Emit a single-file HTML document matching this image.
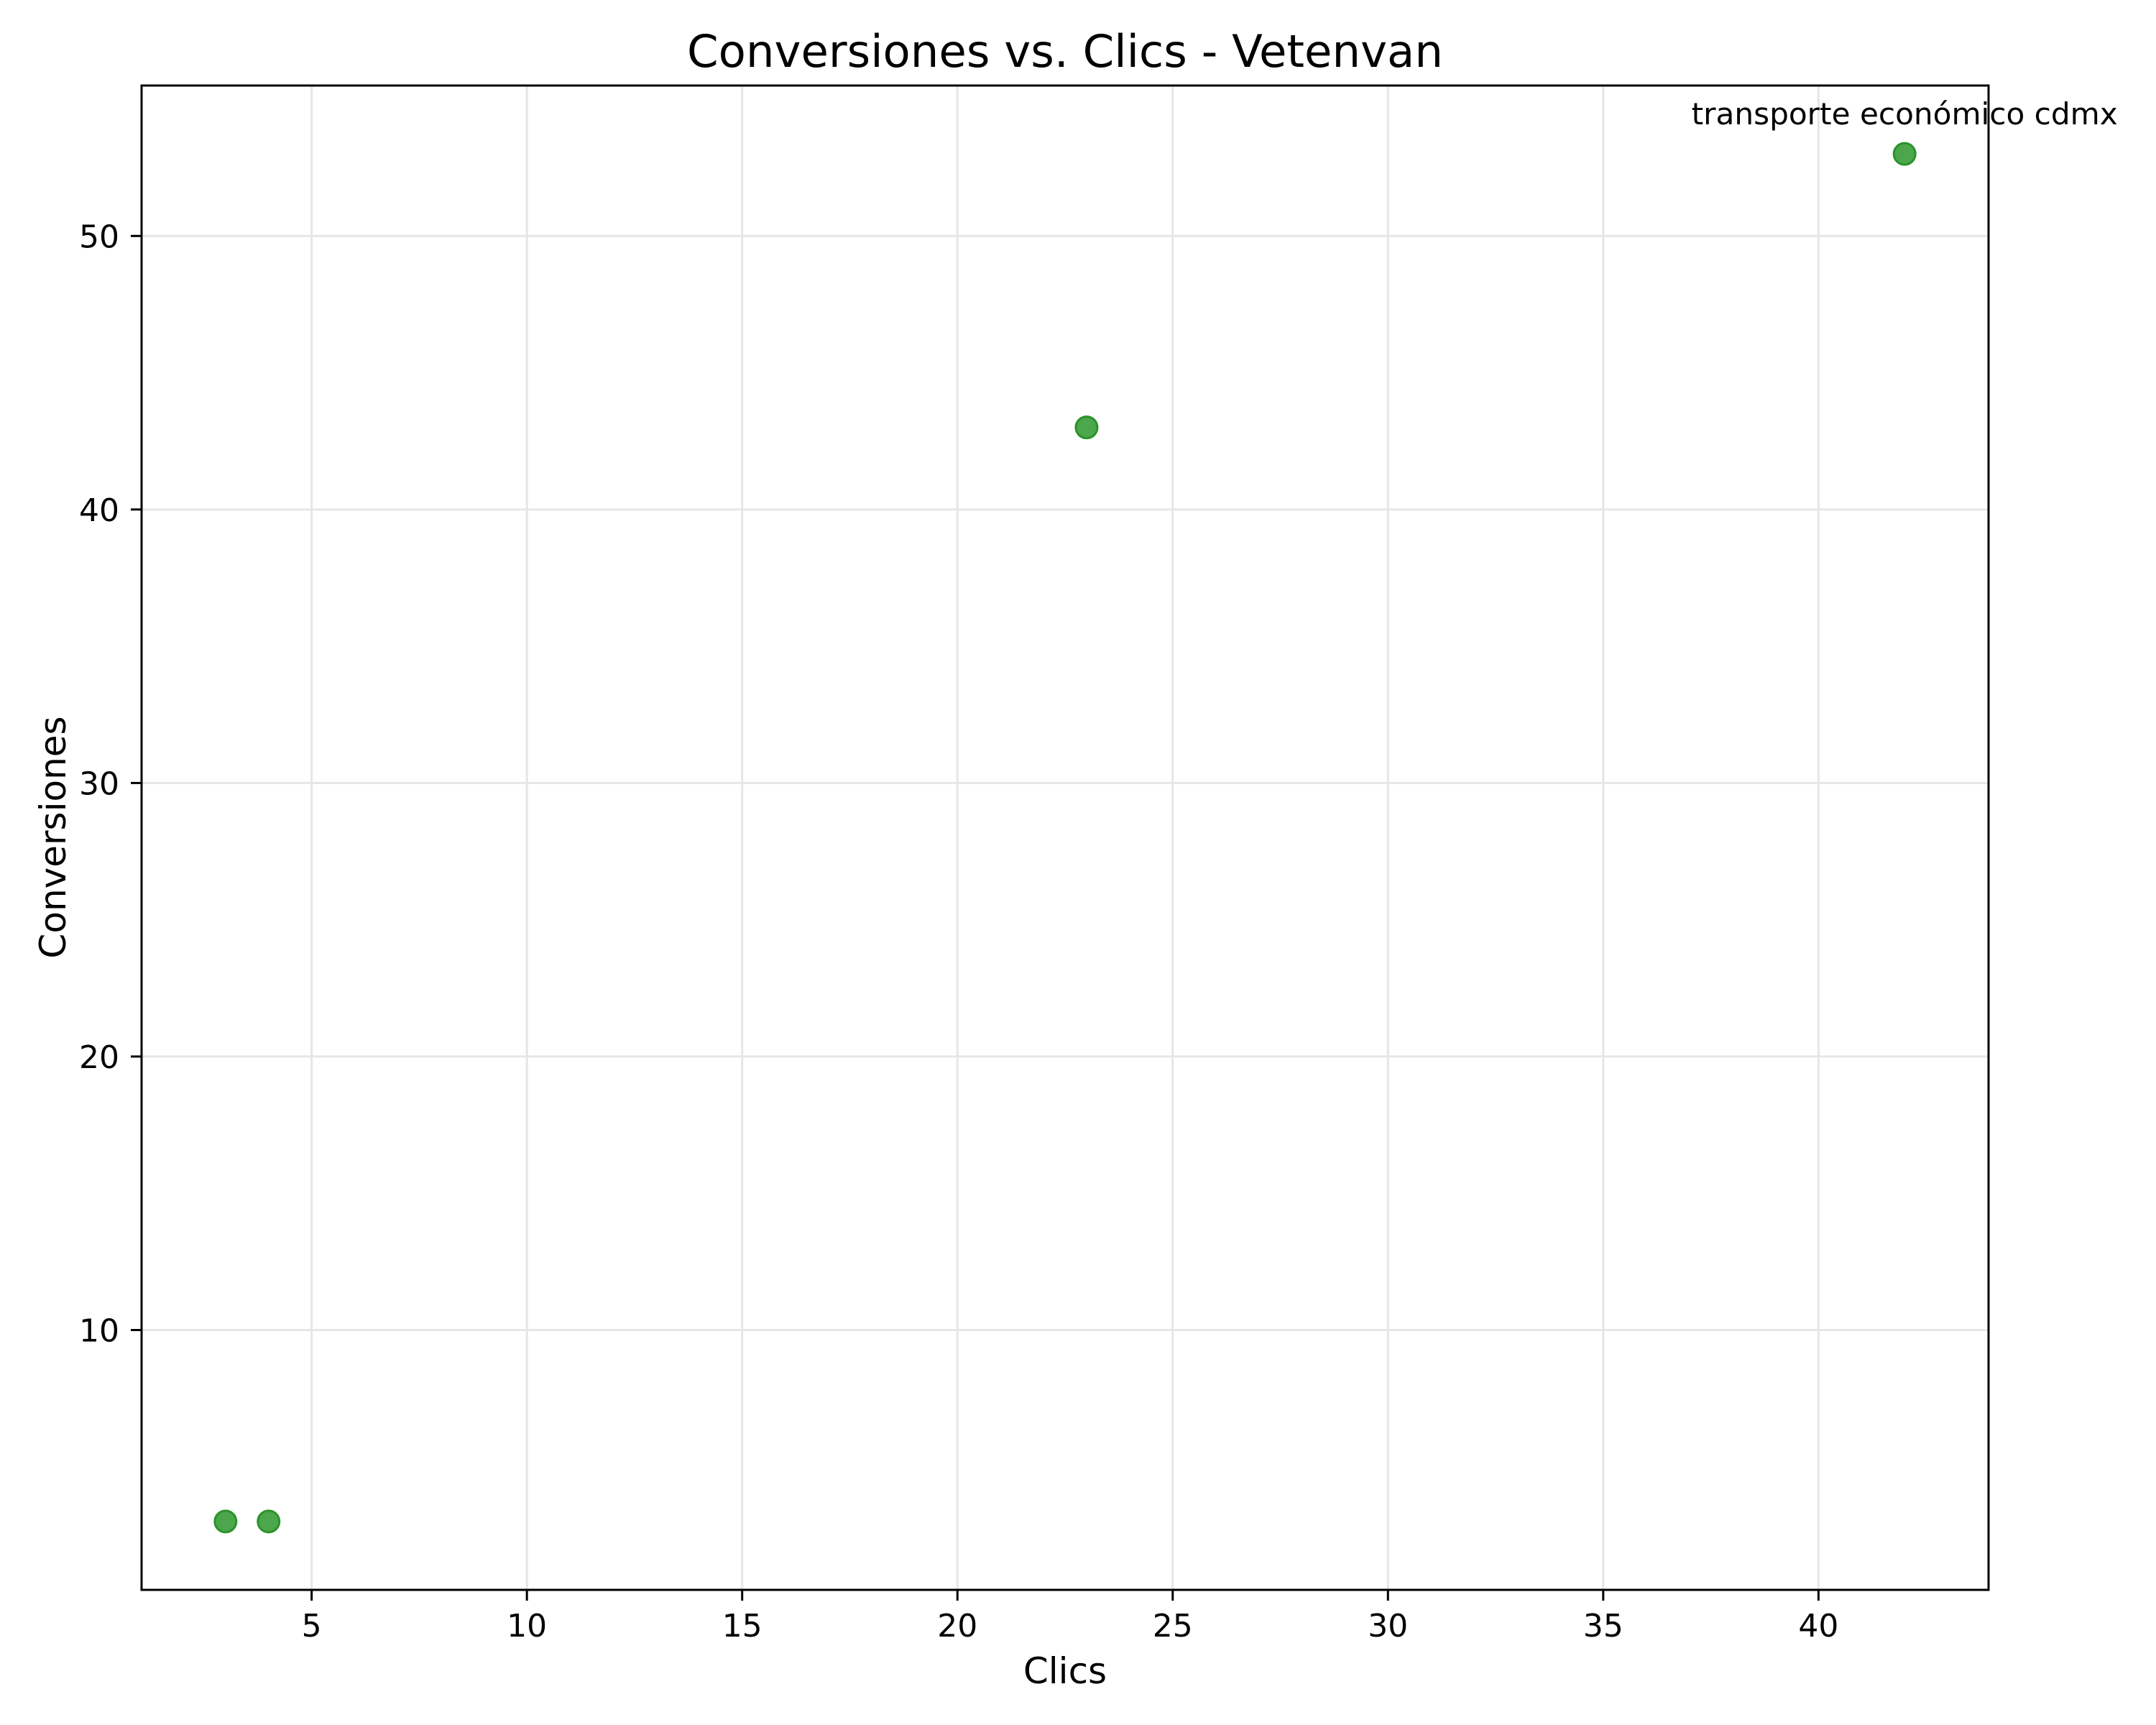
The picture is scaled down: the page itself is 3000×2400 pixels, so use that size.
<!DOCTYPE html>
<html><head><meta charset="utf-8"><style>
html,body{margin:0;padding:0;background:#fff;}
svg{display:block;font-family:"DejaVu Sans","Liberation Sans",sans-serif;}
</style></head><body>
<svg id="chart" width="3000" height="2400" xmlns="http://www.w3.org/2000/svg">
<rect width="3000" height="2400" fill="#fff"/>
<text x="1482" y="93" font-size="62.5" text-anchor="middle">Conversiones vs. Clics - Vetenvan</text>
<g id="grid"></g>
<g id="axes"></g>
<g id="points"></g>
<text x="1482" y="2342" font-size="50" text-anchor="middle">Clics</text>
<text transform="translate(91,1165) rotate(-90)" font-size="50" text-anchor="middle">Conversiones</text>
</svg>
<script>
const clicks = [3, 4, 23, 42];
const conversions = [3, 3, 43, 53];
const labels = ["", "", "", "transporte económico cdmx"];
const xTicks = [5, 10, 15, 20, 25, 30, 35, 40];
const yTicks = [10, 20, 30, 40, 50];

const L = 197, R = 2767, T = 119, B = 2212;
const xmin = Math.min(...clicks), xmax = Math.max(...clicks);
const ymin = Math.min(...conversions), ymax = Math.max(...conversions);
const xpad = (xmax - xmin) * 0.05, ypad = (ymax - ymin) * 0.05;
const x0 = xmin - xpad, x1 = xmax + xpad, y0 = ymin - ypad, y1 = ymax + ypad;
function sx(v){ return L + (v - x0) / (x1 - x0) * (R - L); }
function sy(v){ return B - (v - y0) / (y1 - y0) * (B - T); }
const NS = "http://www.w3.org/2000/svg";
function mk(tag, attrs, parent){
  const e = document.createElementNS(NS, tag);
  for (const k in attrs) e.setAttribute(k, attrs[k]);
  parent.appendChild(e);
  return e;
}
const grid = document.getElementById('grid');
const axes = document.getElementById('axes');
const pts = document.getElementById('points');

xTicks.forEach(t => {
  const x = sx(t);
  const g = mk('line', {x1:x, x2:x, y1:T, y2:B, stroke:'#e6e6e6', 'stroke-width':3}, grid);
  
  
  const tk = mk('line', {x1:x, x2:x, y1:B, y2:B+15, stroke:'#000', 'stroke-width':3}, axes);
  
  
  const lb = mk('text', {x:x, y:2277, 'font-size':44, 'text-anchor':'middle'}, axes);
  lb.textContent = t;
  
  
});
yTicks.forEach(t => {
  const y = sy(t);
  const g = mk('line', {x1:L, x2:R, y1:y, y2:y, stroke:'#e6e6e6', 'stroke-width':3}, grid);
  
  
  const tk = mk('line', {x1:L-15, x2:L, y1:y, y2:y, stroke:'#000', 'stroke-width':3}, axes);
  
  
  const lb = mk('text', {x:166, y:y+16, 'font-size':44, 'text-anchor':'end'}, axes);
  lb.textContent = t;
  
  
});
const frame = mk('rect', {x:L, y:T, width:R-L, height:B-T, fill:'none', stroke:'#000', 'stroke-width':3}, axes);



clicks.forEach((c, i) => {
  const cx = sx(c), cy = sy(conversions[i]);
  const p = mk('circle', {cx:cx, cy:cy, r:15, fill:'#4ca64c', stroke:'#2a932a', 'stroke-width':3}, pts);
  
  
  if (labels[i]) {
    const a = mk('text', {x:cx, y:cy-41, 'font-size':42.2, 'text-anchor':'middle'}, pts);
    a.textContent = labels[i];
    
    
  }
});
</script>
</body></html>
